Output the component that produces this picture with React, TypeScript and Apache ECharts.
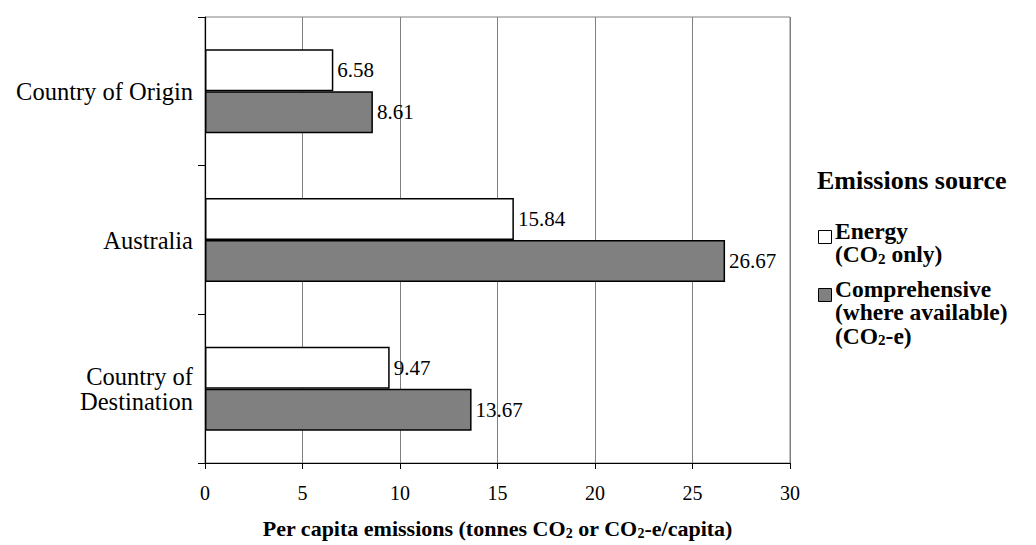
import React, { useEffect, useRef } from "react";
import * as echarts from "echarts";

const categories = ["Country of Origin", "Australia", "Country of\nDestination"];
const energyValues = [6.58, 15.84, 9.47];
const comprehensiveValues = [8.61, 26.67, 13.67];
const xMin = 0;
const xMax = 30;
const xInterval = 5;

const FONT = "'Liberation Serif', 'Times New Roman', serif";

export default function App() {
  const ref = useRef<HTMLDivElement>(null);

  useEffect(() => {
    if (!ref.current) return;
    const chart = echarts.init(ref.current, null, { renderer: "svg" });
    const subRich = {
      b: { fontFamily: FONT, fontWeight: "bold", fontSize: 23.5, lineHeight: 23.5, color: "#000" },
      s: { fontFamily: FONT, fontWeight: "bold", fontSize: 15, lineHeight: 14, verticalAlign: "bottom", color: "#000" },
    };
    chart.setOption({
      animation: false,
      backgroundColor: "#fff",
      textStyle: { fontFamily: FONT, color: "#000" },
      grid: {
        left: 205,
        right: 246,
        top: 17,
        bottom: 82,
        show: true,
        borderColor: "#808080",
        borderWidth: 1,
        backgroundColor: "transparent",
      },
      xAxis: {
        type: "value",
        min: xMin,
        max: xMax,
        interval: xInterval,
        axisLine: { show: true, lineStyle: { color: "#000", width: 1.2 } },
        axisTick: { show: true, inside: false, length: 6, lineStyle: { color: "#000" } },
        splitLine: { show: true, lineStyle: { color: "#808080", width: 1 } },
        axisLabel: { fontFamily: FONT, fontSize: 20, color: "#000", margin: 20 },
        name: "{b|Per capita emissions (tonnes CO}{s|2}{b| or CO}{s|2}{b|-e/capita)}",
        nameLocation: "middle",
        nameGap: 53,
        nameTextStyle: { rich: { b: { ...subRich.b, fontSize: 22, lineHeight: 24 }, s: { ...subRich.s, fontSize: 14 } } },
      },
      yAxis: {
        type: "category",
        data: categories,
        inverse: true,
        axisLine: { show: true, lineStyle: { color: "#000", width: 1.2 } },
        axisTick: { show: true, inside: false, length: 7, lineStyle: { color: "#000" } },
        splitLine: { show: false },
        axisLabel: { fontFamily: FONT, fontSize: 24.5, lineHeight: 25, color: "#000", margin: 12, align: "right" },
      },
      series: [
        {
          name: "Energy (CO2 only)",
          type: "bar",
          data: energyValues,
          barWidth: 42,
          barGap: "0%",
          itemStyle: { color: "#ffffff", borderColor: "#000", borderWidth: 1.5 },
          label: {
            show: true,
            position: "right",
            distance: 4,
            fontFamily: FONT,
            fontSize: 21,
            color: "#000",
            formatter: (p: any) => Number(p.value).toFixed(2),
          },
        },
        {
          name: "Comprehensive (where available) (CO2-e)",
          type: "bar",
          data: comprehensiveValues,
          barWidth: 42,
          itemStyle: { color: "#808080", borderColor: "#000", borderWidth: 1.5 },
          label: {
            show: true,
            position: "right",
            distance: 4,
            fontFamily: FONT,
            fontSize: 21,
            color: "#000",
            formatter: (p: any) => Number(p.value).toFixed(2),
          },
        },
      ],
      graphic: [
        {
          type: "text",
          left: 817,
          top: 167,
          style: { text: "Emissions source", fontFamily: FONT, fontWeight: "bold", fontSize: 26, fill: "#000" },
        },
        {
          type: "rect",
          shape: { x: 818.5, y: 230.5, width: 13, height: 13 },
          style: { fill: "#fff", stroke: "#000", lineWidth: 1 },
        },
        {
          type: "text",
          x: 835,
          y: 219,
          style: {
            text: "{b|Energy}\n{b|(CO}{s|2}{b| only)}",
            rich: subRich,
          },
        },
        {
          type: "rect",
          shape: { x: 818.5, y: 288.5, width: 13, height: 13 },
          style: { fill: "#808080", stroke: "#000", lineWidth: 1 },
        },
        {
          type: "text",
          x: 835,
          y: 277,
          style: {
            text: "{b|Comprehensive}\n{b|(where available)}\n{b|(CO}{s|2}{b|-e)}",
            rich: subRich,
          },
        },
      ],
    });
    return () => chart.dispose();
  }, []);

  return (
    <div
      ref={ref}
      style={{ position: "fixed", left: 0, top: 0, width: 1036, height: 545, background: "#fff" }}
    />
  );
}
